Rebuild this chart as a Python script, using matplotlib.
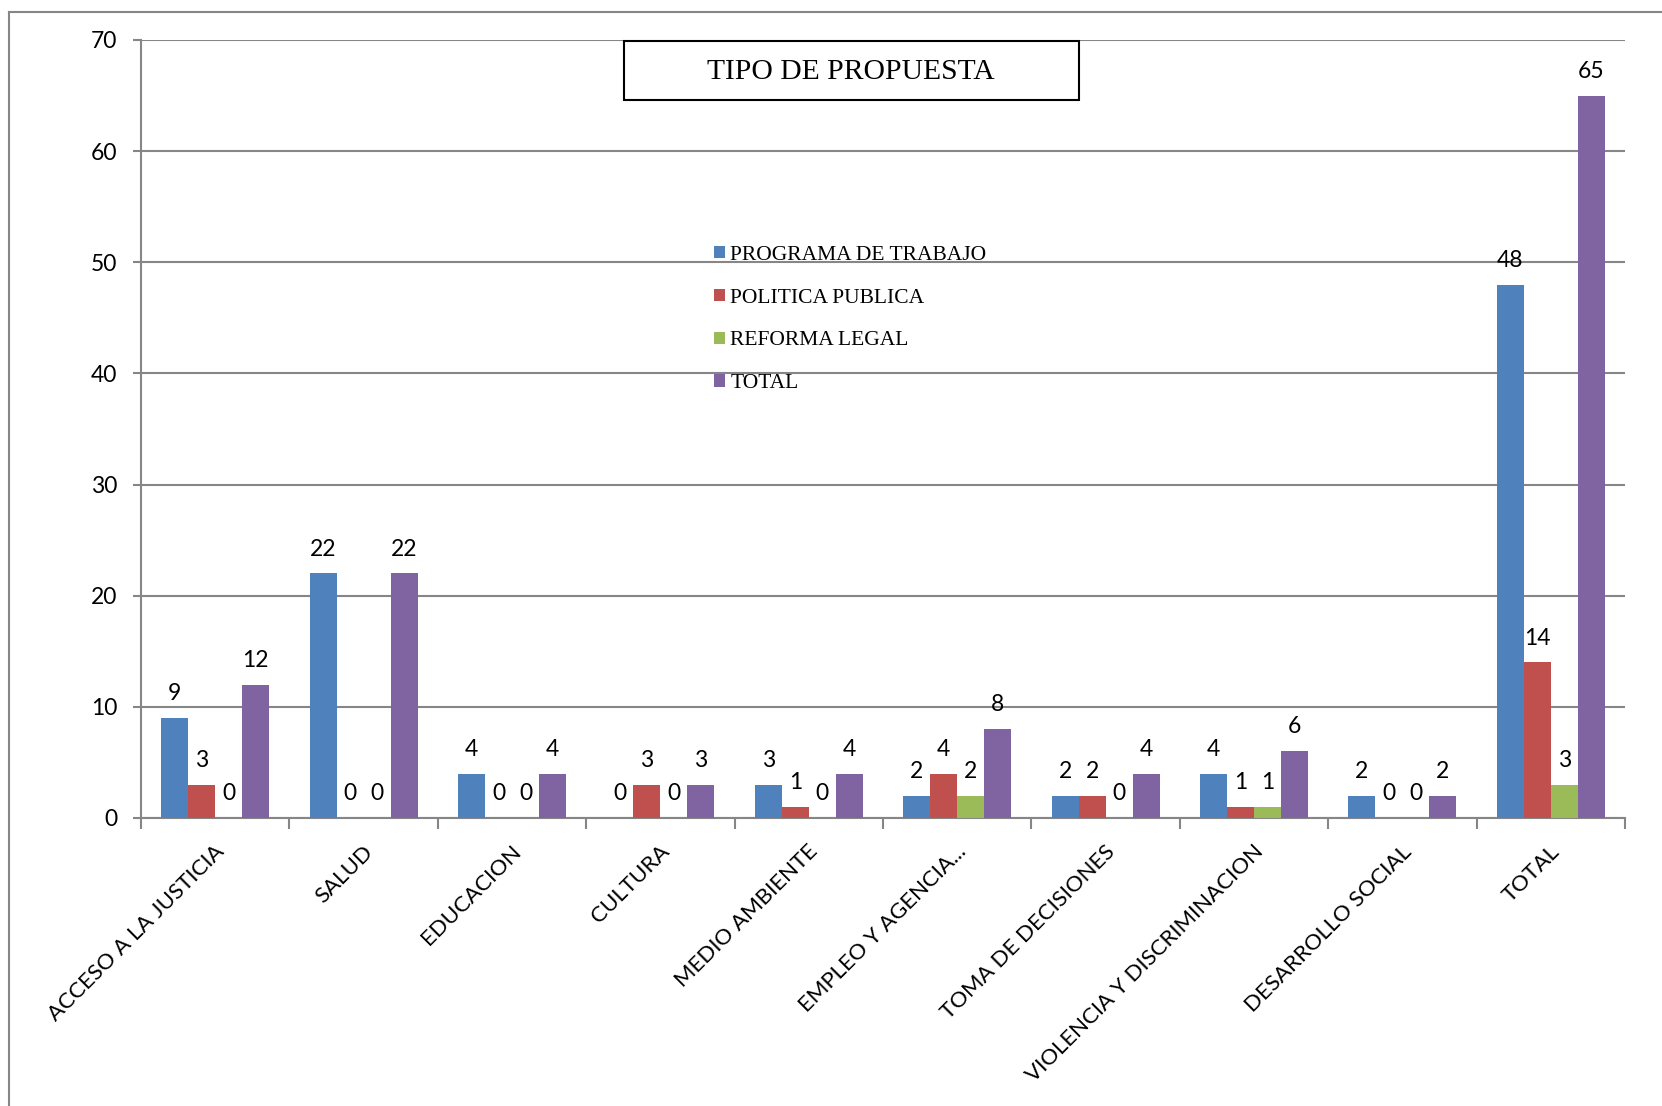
import numpy as np
import matplotlib.pyplot as plt
import matplotlib.transforms as mtransforms
from matplotlib.patches import Rectangle
from matplotlib.lines import Line2D

# datos
categorias = ['ACCESO A LA JUSTICIA', 'SALUD', 'EDUCACION', 'CULTURA', 'MEDIO AMBIENTE',
              'EMPLEO Y AGENCIA...', 'TOMA DE DECISIONES', 'VIOLENCIA Y DISCRIMINACION',
              'DESARROLLO SOCIAL', 'TOTAL']
programa_trabajo = [9, 22, 4, 0, 3, 2, 2, 4, 2, 48]
politica_publica = [3, 0, 0, 3, 1, 4, 2, 1, 0, 14]
reforma_legal = [0, 0, 0, 0, 0, 2, 0, 1, 0, 3]
total = [12, 22, 4, 3, 4, 8, 4, 6, 2, 65]

series = [('PROGRAMA DE TRABAJO', programa_trabajo, '#4F81BD'),
          ('POLITICA PUBLICA', politica_publica, '#C0504D'),
          ('REFORMA LEGAL', reforma_legal, '#9BBB59'),
          ('TOTAL', total, '#8064A2')]

W, H = 1662, 1106
fig = plt.figure(figsize=(W / 100, H / 100), dpi=100)
ax = fig.add_axes([141 / W, 1 - 818 / H, (1625 - 141) / W, (818 - 40) / H])

sans = 'Lato'
serif = 'Liberation Serif'
gris = '#868686'

x = np.arange(len(categorias))
ancho = 0.182
for i, (nombre, vals, color) in enumerate(series):
    b = ax.bar(x + (i - 1.5) * ancho, vals, ancho, color=color, label=nombre, zorder=3)
    ax.bar_label(b, padding=10, fontsize=16.5, family=sans)

ax.set_xlim(-0.5, len(categorias) - 0.5)
ax.set_ylim(0, 70)
ax.set_yticks(range(0, 71, 10))
ax.yaxis.grid(True, color=gris, lw=1.5, zorder=0)
ax.set_axisbelow(True)

for s in ['top', 'right']:
    ax.spines[s].set_visible(False)
for s in ['left', 'bottom']:
    ax.spines[s].set_color(gris)
    ax.spines[s].set_linewidth(1.5)

ax.tick_params(axis='y', length=6, width=1.5, color=gris, pad=11, labelsize=16.5)
for t in ax.get_yticklabels():
    t.set_family(sans)

ax.set_xticks(x)
ax.set_xticklabels(categorias, rotation=45, ha='right', va='center',
                   rotation_mode='anchor', family=sans, fontsize=16)
ax.set_xticks(np.arange(-0.5, len(categorias)), minor=True)
ax.tick_params(axis='x', which='major', length=0, pad=22)
ax.tick_params(axis='x', which='minor', length=8, width=1.5, color=gris)
desplaz = mtransforms.ScaledTranslation(0.06, 0, fig.dpi_scale_trans)
for t in ax.get_xticklabels():
    t.set_transform(t.get_transform() + desplaz)

# caja del título
fig.add_artist(Rectangle((624 / W, 1 - 100 / H), (1079 - 624) / W, 59 / H,
                         transform=fig.transFigure, fill=False, ec='black', lw=1.5))
fig.text(851 / W, 1 - 72 / H, 'TIPO DE PROPUESTA', ha='center', va='center',
         family=serif, fontsize=21.3)

# leyenda
ax.legend(loc='upper left', bbox_to_anchor=(714 / W, 1 - 246 / H),
          bbox_transform=fig.transFigure, frameon=False, borderpad=0, borderaxespad=0,
          handlelength=0.5, handleheight=0.5, handletextpad=0.25, labelspacing=1.1,
          prop={'family': serif, 'size': 15.5})

# marco exterior
fig.add_artist(Line2D([9 / W, 9 / W], [0, 1 - 12 / H], transform=fig.transFigure,
                      color=gris, lw=1.5))
fig.add_artist(Line2D([9 / W, 1], [1 - 12 / H, 1 - 12 / H], transform=fig.transFigure,
                      color=gris, lw=1.5))

fig.savefig('out.png', dpi=100)
